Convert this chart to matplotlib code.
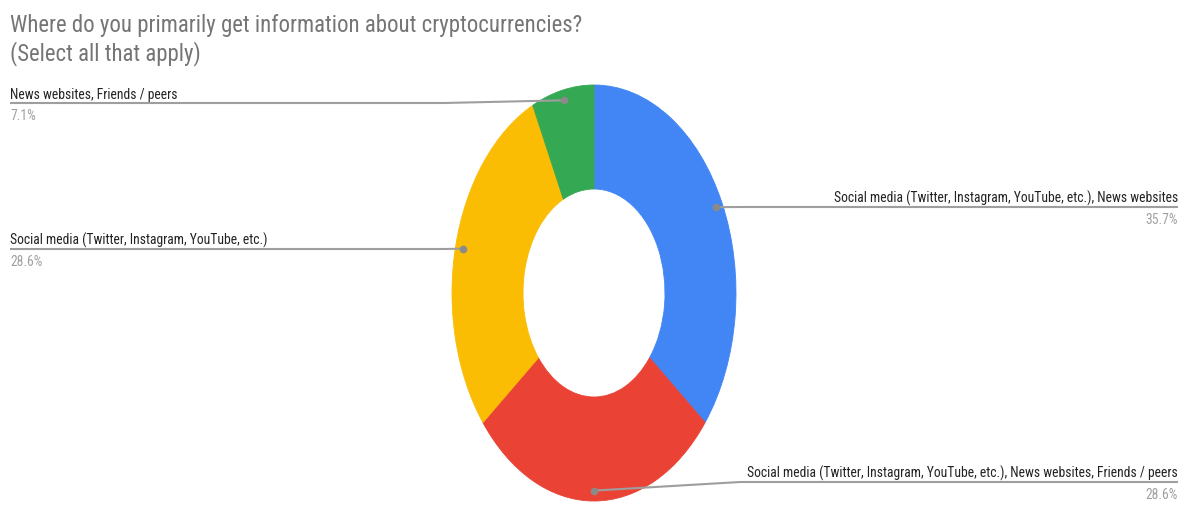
import numpy as np
import matplotlib.pyplot as plt
from matplotlib import font_manager

title_lines = ["Where do you primarily get information about cryptocurrencies?",
               "(Select all that apply)"]
labels = [
    "Social media (Twitter, Instagram, YouTube, etc.), News websites",
    "Social media (Twitter, Instagram, YouTube, etc.), News websites, Friends / peers",
    "Social media (Twitter, Instagram, YouTube, etc.)",
    "News websites, Friends / peers",
]
shares = [35.7, 28.6, 28.6, 7.1]
colors = ["#4285F4", "#EA4335", "#FBBC04", "#34A853"]
sides = ["right", "right", "left", "left"]
line_rows = [208, 483, 250, 104]  # pixel rows of the label rules

W, H = 1188, 506
cx, cy = 594, 294     # donut centre, px
rx, ry = 142, 208     # outer radii, px (the donut is stretched vertically)

# narrow face if one is installed, otherwise plain Liberation Sans
narrow = [f for f in font_manager.fontManager.ttflist
          if f.stretch != "normal" and "expand" not in str(f.stretch)
          and f.style == "normal" and f.weight in (400, "normal", "regular")]
pref = ["Liberation", "Arimo", "Roboto", "Open Sans", "Noto Sans", "DejaVu"]
narrow.sort(key=lambda f: next((i for i, p in enumerate(pref) if p in f.name), 99))
if narrow:
    base = font_manager.FontProperties(fname=narrow[0].fname)
else:
    base = font_manager.FontProperties(family="Liberation Sans")


def px(x, y):  # pixel -> data coords
    return (x - cx) / rx, (cy - y) / ry


fig = plt.figure(figsize=(W / 100, H / 100), dpi=100)
renderer = fig.canvas.get_renderer()


def fit_size(text, size, target):  # shrink font so the text spans target px
    t = fig.text(0, 0, text, fontproperties=base, fontsize=size)
    wpx = t.get_window_extent(renderer).width
    t.remove()
    return min(size, size * target / wpx)


title_size = fit_size(title_lines[0], 20, 568)
label_size = fit_size(labels[1], 12.5, 432)

ax = fig.add_axes([0, 0, 1, 1])
wedges, _ = ax.pie(shares, colors=colors, startangle=90, counterclock=False,
                   wedgeprops=dict(width=0.5, linewidth=0.6))
for w, c in zip(wedges, colors):
    w.set_edgecolor(c)
ax.set_aspect("auto")
ax.set_xlim(-cx / rx, (W - cx) / rx)
ax.set_ylim(-(H - cy) / ry, cy / ry)
ax.axis("off")

for line, base_y in zip(title_lines, [32, 60]):
    fig.text(10 / W, 1 - base_y / H, line, ha="left", va="baseline",
             fontproperties=base, fontsize=title_size, color="#757575")

line_col = "#9e9e9e"
for w, lab, val, side, row in zip(wedges, labels, shares, sides, line_rows):
    mid = np.deg2rad((w.theta1 + w.theta2) / 2)
    ax_, ay_ = 0.95 * np.cos(mid), 0.95 * np.sin(mid)
    ly = px(0, row)[1]
    if side == "right":
        ex = 1.0 + 4 / rx
        end = px(1178, 0)[0]
        tx, ha = 1178, "right"
    else:
        ex = -1.0 - 8 / rx
        end = px(10, 0)[0]
        tx, ha = 10, "left"
    ax.plot([ax_, ex, end], [ay_, ly, ly], color=line_col, lw=1.5,
            solid_capstyle="butt", zorder=3)
    ax.plot(ax_, ay_, "o", ms=4.5, color="#8a8a8a", zorder=4)
    fig.text(tx / W, 1 - (row - 5) / H, lab, ha=ha, va="baseline",
             fontproperties=base, fontsize=label_size, color="#222222")
    fig.text(tx / W, 1 - (row + 16) / H, f"{val}%", ha=ha, va="baseline",
             fontproperties=base, fontsize=label_size, color="#a0a0a0")

fig.savefig("out.png", dpi=100)
